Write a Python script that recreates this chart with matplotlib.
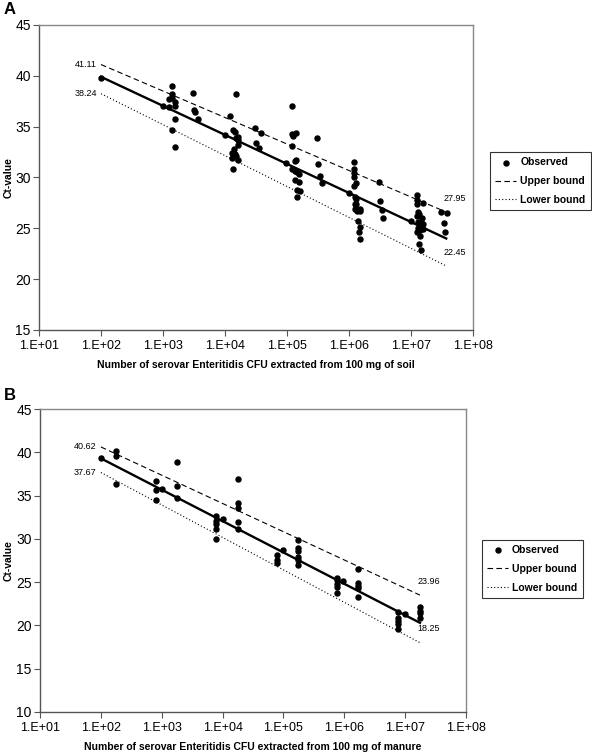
import matplotlib
matplotlib.use("Agg")
import matplotlib.pyplot as plt

plt.rcParams['font.family'] = ['Liberation Sans', 'DejaVu Sans']

# Panel A : soil
soil_x = [1.0e2,
          1.41e3, 1.41e3, 1.26e3, 1.41e3, 1.0e3, 1.26e3, 1.58e3, 1.58e3, 1.58e3, 1.41e3, 1.58e3,
          3.0e3, 3.3e3, 3.2e3, 3.7e3,
          1.5e4, 1.2e4, 1.35e4, 1.45e4, 1.0e4, 1.5e4, 1.6e4, 1.65e4, 1.6e4, 1.4e4, 1.3e4, 1.3e4,
          1.6e4, 1.35e4, 1.5e4, 1.45e4,
          3.0e4, 3.8e4, 3.2e4, 3.5e4,
          1.2e5, 1.2e5, 1.25e5, 1.4e5, 1.2e5, 1.35e5, 1.4e5, 9.5e4, 1.2e5, 1.35e5, 1.45e5, 1.55e5,
          1.35e5, 1.55e5, 1.45e5, 1.6e5, 1.45e5,
          3.0e5, 3.2e5, 3.4e5, 3.6e5,
          1.2e6, 1.2e6, 1.2e6, 1.2e6, 1.3e6, 1.2e6, 1.0e6, 1.25e6, 1.3e6, 1.25e6, 1.3e6, 1.25e6,
          1.4e6, 1.5e6, 1.35e6, 1.5e6, 1.4e6, 1.5e6, 1.45e6, 1.5e6,
          3.0e6, 3.2e6, 3.4e6, 3.6e6,
          1.25e7, 1.25e7, 1.25e7, 1.55e7, 1.3e7, 1.35e7, 1.25e7, 1.5e7, 1.0e7, 1.3e7, 1.45e7, 1.55e7,
          1.3e7, 1.4e7, 1.55e7, 1.25e7, 1.4e7, 1.35e7, 1.45e7,
          3.0e7, 3.8e7, 3.4e7, 3.5e7]
soil_ct = [39.8,
           39.0, 38.2, 37.7, 37.8, 37.0, 36.9, 37.0, 37.4, 35.8, 34.7, 33.0,
           38.3, 36.4, 36.6, 35.8,
           38.2, 36.0, 34.7, 34.5, 34.2, 33.9, 34.0, 33.7, 33.2, 32.8, 32.4, 31.9,
           31.7, 30.8, 32.1, 32.3,
           34.9, 34.4, 33.4, 32.9,
           37.0, 34.3, 34.1, 34.4, 33.1, 31.6, 31.7, 31.4, 30.8, 30.6, 30.5, 30.3,
           29.8, 29.6, 28.8, 28.7, 28.1,
           33.9, 31.3, 30.1, 29.5,
           31.5, 30.8, 30.4, 30.0, 29.5, 29.2, 28.5, 28.1, 27.9, 27.4, 27.4, 26.9,
           26.8, 26.7, 26.7, 26.9, 25.7, 25.1, 24.6, 23.9,
           29.6, 27.7, 26.8, 26.0,
           28.3, 27.8, 27.4, 27.5, 26.6, 26.4, 26.2, 26.0, 25.7, 25.6, 25.6, 25.4,
           25.0, 24.8, 24.9, 24.6, 24.2, 23.5, 22.9,
           26.6, 26.5, 25.5, 24.6]
soil_fit_x = [1.0e2, 3.7e7]
soil_fit = [39.9, 24.0]
soil_upper = [41.11, 26.6]
soil_lower = [38.24, 21.3]
soil_labels = ["41.11", "38.24", "27.95", "22.45"]

# Panel B : manure
manure_x = [1.0e2, 1.8e2, 1.8e2, 1.8e2,
            8.0e2, 8.0e2, 8.0e2, 1.0e3, 1.8e3, 1.8e3, 1.8e3,
            7.8e3, 7.8e3, 7.8e3, 7.8e3, 7.8e3, 1.0e4,
            1.8e4, 1.8e4, 1.8e4, 1.8e4, 1.8e4,
            7.8e4, 7.8e4, 7.8e4, 9.8e4,
            1.75e5, 1.75e5, 1.75e5, 1.75e5, 1.75e5, 1.75e5,
            7.6e5, 7.6e5, 7.6e5, 7.6e5, 7.6e5, 9.5e5,
            1.7e6, 1.7e6, 1.7e6, 1.7e6, 1.7e6,
            7.6e6, 7.6e6, 7.6e6, 7.6e6, 7.6e6, 1.0e7,
            1.75e7, 1.75e7, 1.75e7, 1.75e7]
manure_ct = [39.3, 40.1, 39.6, 36.3,
             36.7, 35.7, 34.5, 35.8, 38.9, 36.1, 34.7,
             32.6, 32.1, 31.7, 31.1, 30.0, 32.3,
             36.9, 34.2, 33.6, 32.0, 31.1,
             28.1, 27.6, 27.2, 28.7,
             29.9, 29.0, 28.6, 27.9, 27.5, 27.0,
             25.5, 25.2, 24.8, 24.4, 23.8, 25.1,
             26.5, 24.9, 24.5, 24.3, 23.3,
             21.5, 20.9, 20.5, 20.2, 19.6, 21.3,
             22.1, 21.7, 21.4, 20.8]
manure_fit_x = [1.0e2, 1.75e7]
manure_fit = [39.3, 20.3]
manure_upper = [40.62, 23.5]
manure_lower = [37.67, 18.0]
manure_labels = ["40.62", "37.67", "23.96", "18.25"]

xticks = [1e1, 1e2, 1e3, 1e4, 1e5, 1e6, 1e7, 1e8]
xticklabels = ["1.E+01", "1.E+02", "1.E+03", "1.E+04", "1.E+05", "1.E+06", "1.E+07", "1.E+08"]

fig = plt.figure(figsize=(5.92, 7.53), dpi=100)
axA = fig.add_axes([0.0659, 0.5618, 0.7331, 0.4050])
axB = fig.add_axes([0.0676, 0.0545, 0.7196, 0.4023])


def draw(ax, x, ct, fx, fit, up, lo, labels, ymin, xlabel, legend_pos, ylab_x):
    ax.scatter(x, ct, s=13, color='black', zorder=3, label='Observed')
    ax.plot(fx, fit, color='black', lw=1.7, zorder=2)
    ax.plot(fx, up, color='black', lw=0.8, dashes=(5, 3), label='Upper bound')
    ax.plot(fx, lo, color='black', lw=0.8, dashes=(1, 2), label='Lower bound')
    ax.set_xscale('log')
    ax.set_xlim(1e1, 1e8)
    ax.set_ylim(ymin, 45)
    ax.set_yticks(range(ymin, 46, 5))
    ax.set_xticks(xticks)
    ax.set_xticklabels(xticklabels)
    ax.minorticks_off()
    ax.tick_params(axis='x', labelsize=9, length=4, width=0.8, color='#555555', pad=3)
    ax.tick_params(axis='y', labelsize=10, length=4, width=0.8, color='#555555', pad=2)
    for s in ['left', 'bottom']:
        ax.spines[s].set_color('#555555')
        ax.spines[s].set_linewidth(1.0)
    for s in ['top', 'right']:
        ax.spines[s].set_color('#888888')
        ax.spines[s].set_linewidth(1.0)
    ax.set_xlabel(xlabel, fontsize=7.5, fontweight='bold', labelpad=6)
    ax.set_ylabel('Ct-value', fontsize=7.5, fontweight='bold')
    ax.yaxis.set_label_coords(ylab_x, 0.5)
    # value labels at the ends of the bound lines
    ax.annotate(labels[0], (fx[0], up[0]), xytext=(-3, 0), textcoords='offset points',
                ha='right', va='center', fontsize=6.5)
    ax.annotate(labels[1], (fx[0], lo[0]), xytext=(-3, 0), textcoords='offset points',
                ha='right', va='center', fontsize=6.5)
    ax.annotate(labels[2], (fx[1], up[1]), xytext=(-2, 10), textcoords='offset points',
                ha='left', va='center', fontsize=6.5)
    ax.annotate(labels[3], (fx[1], lo[1]), xytext=(-2, 10), textcoords='offset points',
                ha='left', va='center', fontsize=6.5)
    leg = fig.legend(*ax.get_legend_handles_labels(), loc='upper left',
                     bbox_to_anchor=legend_pos, frameon=True, fancybox=False,
                     edgecolor='black', prop={'size': 7.5, 'weight': 'bold'},
                     handlelength=2.0, handletextpad=0.4, borderpad=0.5,
                     labelspacing=0.85, borderaxespad=0)
    leg.get_frame().set_linewidth(0.8)


draw(axA, soil_x, soil_ct, soil_fit_x, soil_fit, soil_upper, soil_lower, soil_labels, 15,
     'Number of serovar Enteritidis CFU extracted from 100 mg of soil', (0.828, 0.798), -0.058)
draw(axB, manure_x, manure_ct, manure_fit_x, manure_fit, manure_upper, manure_lower,
     manure_labels, 10, 'Number of serovar Enteritidis CFU extracted from 100 mg of manure',
     (0.814, 0.283), -0.061)

fig.text(0.006, 0.997, 'A', fontsize=12, fontweight='bold', va='top')
fig.text(0.006, 0.485, 'B', fontsize=12, fontweight='bold', va='top')

fig.savefig('out.png', dpi=100)
